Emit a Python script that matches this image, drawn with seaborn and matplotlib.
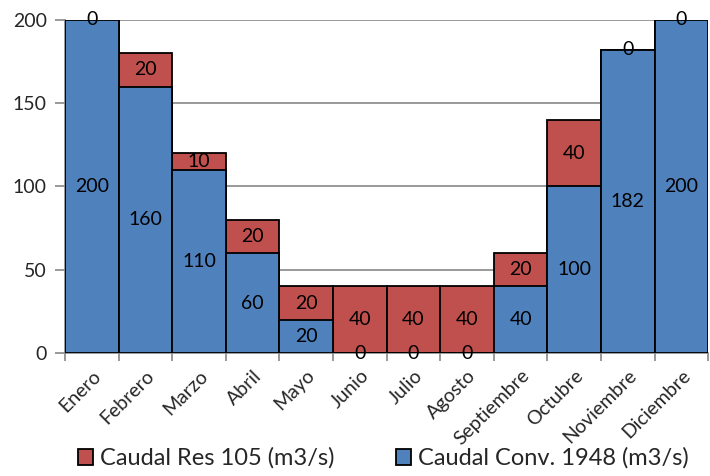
import matplotlib
matplotlib.use("Agg")
import matplotlib.pyplot as plt
import seaborn as sns
import pandas as pd
import numpy as np
from matplotlib.patches import Patch

meses = ["Enero", "Febrero", "Marzo", "Abril", "Mayo", "Junio", "Julio",
         "Agosto", "Septiembre", "Octubre", "Noviembre", "Diciembre"]
caudal_conv = [200, 160, 110, 60, 20, 0, 0, 0, 40, 100, 182, 200]
caudal_res = [0, 20, 10, 20, 20, 40, 40, 40, 20, 40, 0, 0]
y_ticks = [0, 50, 100, 150, 200]

serie_res = "Caudal Res 105 (m3/s)"
serie_conv = "Caudal Conv. 1948 (m3/s)"
azul = "#4F81BD"
rojo = "#C0504D"
gris = "#888888"

df = pd.DataFrame({"mes": meses, "conv": caudal_conv, "res": caudal_res})
df["total"] = df["conv"] + df["res"]

sns.set_theme(style="white")
plt.rcParams["font.family"] = ["Lato", "DejaVu Sans"]

fig = plt.figure(figsize=(7.1, 4.76), dpi=100)
ax = fig.add_axes([0.0915, 0.2584, 0.906, 0.6996])

# Stacked bars: full total in red, conventional flow drawn over it in blue
sns.barplot(data=df, x="mes", y="total", color=rojo, width=1.0, ax=ax,
            edgecolor="black", linewidth=1.3, saturation=1, zorder=3)
sns.barplot(data=df, x="mes", y="conv", color=azul, width=1.0, ax=ax,
            edgecolor="black", linewidth=1.3, saturation=1, zorder=4)

# Value labels centred in each segment
for i, (c, r) in enumerate(zip(caudal_conv, caudal_res)):
    ax.text(i, c / 2, f"{c}", ha="center", va="center", fontsize=14,
            color="black", zorder=6)
    ax.text(i, c + r / 2, f"{r}", ha="center", va="center", fontsize=14,
            color="black", zorder=6)

ax.set_xlim(-0.5, 11.5)
ax.set_ylim(0, 200)
ax.set_yticks(y_ticks)
ax.set_yticklabels([str(v) for v in y_ticks], fontsize=14)
ax.yaxis.grid(True, color=gris, linewidth=1.2, zorder=0)
ax.set_axisbelow(True)
ax.set_xlabel("")
ax.set_ylabel("")

for s in ["top", "right"]:
    ax.spines[s].set_visible(False)
for s in ["bottom", "left"]:
    ax.spines[s].set_color(gris)
    ax.spines[s].set_linewidth(1.2)

ax.tick_params(axis="y", which="major", length=7, width=1.2, color=gris,
               left=True, pad=6)
ax.set_xticks(range(len(meses)))
ax.set_xticklabels(meses, rotation=45, ha="right", rotation_mode="anchor",
                   fontsize=14)
ax.tick_params(axis="x", which="major", length=0, pad=10)
ax.set_xticks(np.arange(-0.5, 12, 1.0), minor=True)
ax.tick_params(axis="x", which="minor", length=6, width=1.2, color=gris,
               bottom=True)

handles = [Patch(facecolor=rojo, edgecolor="black", linewidth=1.3, label=serie_res),
           Patch(facecolor=azul, edgecolor="black", linewidth=1.3, label=serie_conv)]
fig.legend(handles=handles, loc="lower center", bbox_to_anchor=(0.54, -0.03),
           ncol=2, frameon=False, fontsize=17, handlelength=0.65,
           handleheight=0.65, handletextpad=0.3, columnspacing=2.6)

fig.savefig("out.png", dpi=100)
